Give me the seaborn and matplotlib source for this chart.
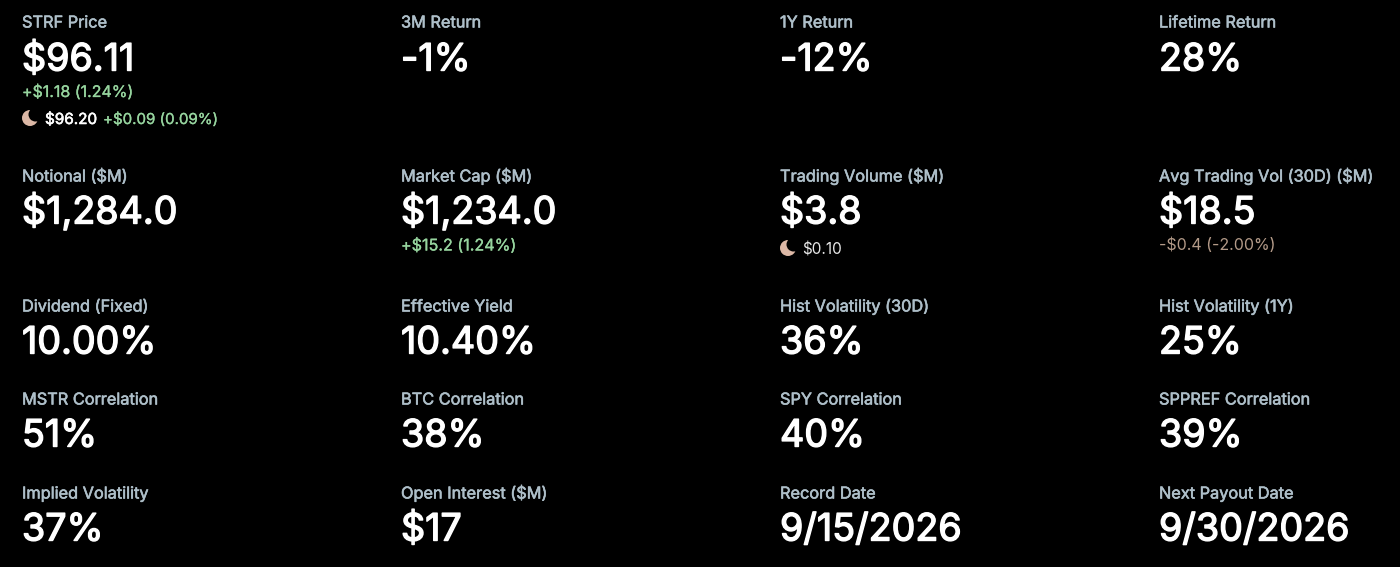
import matplotlib
matplotlib.use("Agg")
import matplotlib.pyplot as plt
from matplotlib.patches import Circle
import matplotlib.patheffects as pe
import seaborn as sns

labels = [
    ["STRF Price", "3M Return", "1Y Return", "Lifetime Return"],
    ["Notional ($M)", "Market Cap ($M)", "Trading Volume ($M)", "Avg Trading Vol (30D) ($M)"],
    ["Dividend (Fixed)", "Effective Yield", "Hist Volatility (30D)", "Hist Volatility (1Y)"],
    ["MSTR Correlation", "BTC Correlation", "SPY Correlation", "SPPREF Correlation"],
    ["Implied Volatility", "Open Interest ($M)", "Record Date", "Next Payout Date"],
]
values = [
    ["$96.11", "-1%", "-12%", "28%"],
    ["$1,284.0", "$1,234.0", "$3.8", "$18.5"],
    ["10.00%", "10.40%", "36%", "25%"],
    ["51%", "38%", "40%", "39%"],
    ["37%", "$17", "9/15/2026", "9/30/2026"],
]
GREEN = "#96d49e"
TAN = "#b39a88"
MOON = "#dcb8a6"
LABEL = "#aebfc9"

sns.set_theme(style="dark", rc={"axes.facecolor": "black", "figure.facecolor": "black"})
plt.rcParams["font.family"] = ["Inter", "DejaVu Sans"]

fig, ax = plt.subplots(figsize=(14, 5.67), dpi=100)
ax.set_position([0, 0, 1, 1])
ax.set_xlim(0, 1400)
ax.set_ylim(567, 0)
ax.axis("off")

col_x = [22, 401, 780, 1159]
label_y = [27.5, 181.5, 311.5, 404.5, 498.5]
value_y = [70.5, 223.5, 353.5, 446.5, 540.5]

def heavy(color, width):
    return [pe.withStroke(linewidth=width, foreground=color)]

for r, row in enumerate(labels):
    for c, txt in enumerate(row):
        ax.text(col_x[c], label_y[r], txt, color=LABEL, fontsize=11.75, va="baseline",
                path_effects=heavy(LABEL, 0.4))
        ax.text(col_x[c], value_y[r], values[r][c], color="white", fontsize=27.1, va="baseline",
                path_effects=heavy("white", 1.0))

def moon(x, y):
    ax.add_patch(Circle((x, y), 8, fc=MOON, ec="none"))
    ax.add_patch(Circle((x + 5.5, y - 3.5), 7, fc="black", ec="none"))

ax.text(22, 97, "+$1.18 (1.24%)", color=GREEN, fontsize=11.5, va="baseline", path_effects=heavy(GREEN, 0.2))
moon(30, 118)
ax.text(45, 124, "$96.20", color="white", fontsize=11, va="baseline", path_effects=heavy("white", 0.4))
ax.text(103, 124, "+$0.09 (0.09%)", color=GREEN, fontsize=10.85, va="baseline", path_effects=heavy(GREEN, 0.2))
ax.text(401, 250.5, "+$15.2 (1.24%)", color=GREEN, fontsize=11.6, va="baseline", path_effects=heavy(GREEN, 0.2))
moon(788, 248)
ax.text(802, 254, "$0.10", color="#e6e6e6", fontsize=11, va="baseline")
ax.text(1159, 250.5, "-$0.4 (-2.00%)", color=TAN, fontsize=11.5, va="baseline")

fig.savefig("out.png", dpi=100, facecolor="black")
